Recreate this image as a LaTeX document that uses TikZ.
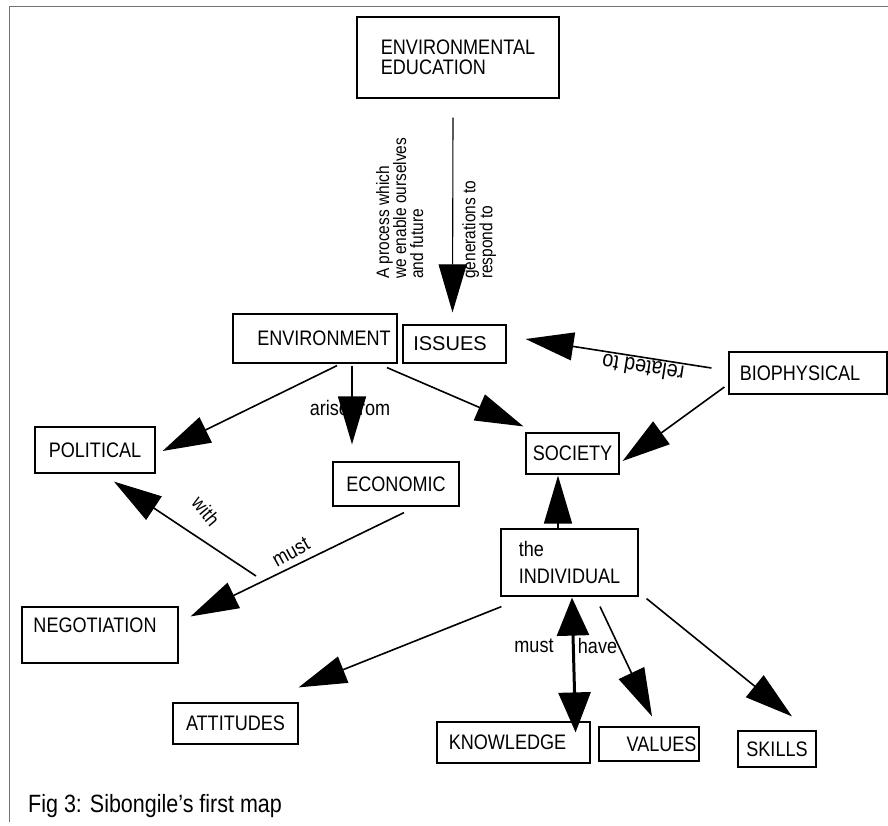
\documentclass[tikz,border=0pt]{standalone}
\usepackage{fontspec}
\setmainfont{Liberation Sans}[FakeStretch=0.86]
\newfontfamily\plainsans{Liberation Sans}
\usetikzlibrary{arrows.meta,calc}

% type sizes for the concept map (narrow, tall sans)
\newcommand\cmapfont{\fontsize{21}{20}\selectfont}
\newcommand\cmapsmall{\fontsize{18}{17}\selectfont}

\tikzset{
  box/.style={draw, line width=1.2pt, inner sep=0pt, font=\cmapfont},
  lbl/.style={inner sep=0pt, font=\cmapfont},
  conn/.style={line width=1.6pt, -{Triangle[length=48pt,width=28pt]}},
  frameline/.style={draw=black!55, line width=0.8pt},
}

\begin{document}
\begin{tikzpicture}[x=1pt,y=-1pt]
  \fill[white] (0,0) rectangle (888,825);
  \useasboundingbox (0,0) rectangle (888,825);

  % page frame (top and left rules)
  \draw[frameline] (888,6) -- (9,6) -- (9,822);

  % concepts
  \node[box, minimum width=202pt, minimum height=81pt, align=left] (ee) at (458,57.5) {ENVIRONMENTAL\\EDUCATION};
  \node[box, minimum width=164pt, minimum height=49pt] (env) at (315,338.5) {\hspace*{18pt}ENVIRONMENT};
  \node[box, minimum width=103pt, minimum height=38pt, font=\plainsans\fontsize{20}{22}\selectfont] (iss) at (454.5,344) {ISSUES\hspace*{9pt}};
  \node[box, minimum width=158pt, minimum height=42pt] (bio) at (808,373) {BIOPHYSICAL\hspace*{16pt}};
  \node[box, minimum width=120pt, minimum height=46pt] (pol) at (95,450) {POLITICAL};
  \node[box, minimum width=126pt, minimum height=44pt] (eco) at (396,484) {ECONOMIC};
  \node[box, minimum width=93pt, minimum height=41pt] (soc) at (572.5,453.5) {SOCIETY};
  \node[box, minimum width=137pt, minimum height=67pt, align=left] (ind) at (569.5,562.5) {the\\[7pt]INDIVIDUAL};
  \node[box, minimum width=156pt, minimum height=56pt, align=left] (neg) at (100,635) {NEGOTIATION\hspace*{10pt}\\\mbox{}};
  \node[box, minimum width=125pt, minimum height=41pt] (att) at (235.5,723.5) {ATTITUDES};
  \node[box, minimum width=153pt, minimum height=41pt] (kno) at (513.5,742.5) {KNOWLEDGE\hspace*{12pt}};
  \node[box, minimum width=100pt, minimum height=34pt] (val) at (649,744) {\hspace*{25pt}VALUES};
  \node[box, minimum width=78pt, minimum height=36pt] (ski) at (777,749) {SKILLS};

  % linking phrases
  \node[lbl, font=\cmapsmall, rotate=90, anchor=north west, align=left] (lproc) at (376,279)
    {A process which\\we enable ourselves\\and future};
  \node[lbl, font=\cmapsmall, rotate=90, anchor=north west, align=left] (lgen) at (462,279)
    {generations to\\respond to};
  \node[lbl] (larise) at (350,408) {arise from};
  \node[lbl, font=\fontsize{23}{24}\selectfont, rotate=171] (lrel) at (643,368) {related to};
  \node[lbl, font=\fontsize{20}{20}\selectfont, rotate=-50] (lwith) at (206,511) {with};
  \node[lbl, rotate=29] (lmust) at (291,552) {must};
  \node[lbl] (lmust2) at (534,646) {must};
  \node[lbl] (lhave) at (597.5,646) {have};

  % free end of the "with" link
  \coordinate (withstart) at (256,576);

  % connectors
  \draw[conn, line width=1.1pt] ($(ee.south)+(-5,19)$) -- ($(iss.north)+(-2,-12)$);
  \draw[conn] ($(env.south)+(22,2)$) -- ($(pol.east)+(7,1)$);
  \draw[conn] ($(env.south)+(37,2)$) -- ($(eco.north)+(-44,-17)$);
  \draw[conn] ($(env.south)+(72,4)$) -- ($(soc.north west)+(-2,-6)$);
  \draw[conn] ($(bio.west)+(-17,-5)$) -- ($(iss.east)+(19,-5)$);
  \draw[conn] ($(bio.west)+(-4,14)$) -- ($(soc.east)+(3,7.5)$);
  \draw[conn] ($(ind.north)+(-11.5,0)$) -- ($(soc.south)+(-14.5,1)$);
  \draw[conn] ($(eco.south)+(8,6)$) -- ($(neg.north east)+(12,10)$);
  \draw[conn] (withstart) -- ($(pol.south)+(19,8)$);
  \draw[conn] ($(ind.south west)+(1,10)$) -- ($(att.north east)+(0,-15)$);
  \draw[line width=3pt, {Triangle[length=38pt,width=32pt]}-{Triangle[length=40pt,width=32pt]}]
    ($(ind.south)+(2.5,1)$) -- ($(kno.north east)+(-15,11)$);
  \draw[conn] ($(ind.south)+(30.5,10)$) -- ($(val.north)+(3,-10)$);
  \draw[conn] ($(ind.south east)+(8,2)$) -- ($(ski.north)+(15,-14)$);

  % caption
  \node[lbl, font=\fontsize{25}{28}\selectfont, anchor=base west] (cap) at (28,812) {Fig 3: Sibongile's first map};
\end{tikzpicture}
\end{document}
